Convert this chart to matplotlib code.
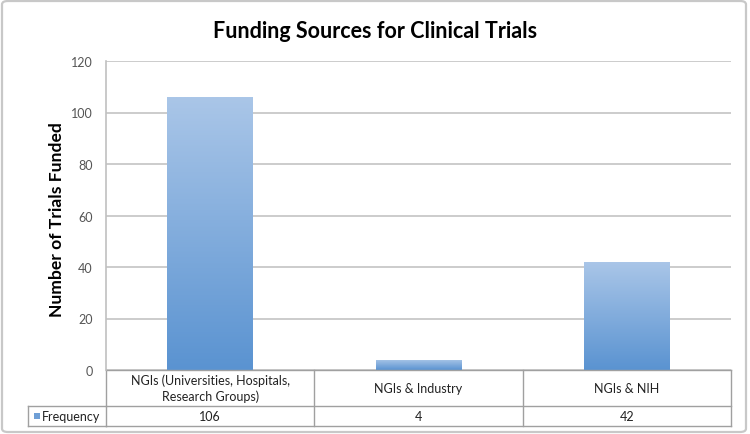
import matplotlib
matplotlib.use("Agg")
import matplotlib.pyplot as plt
import numpy as np
from matplotlib.patches import FancyBboxPatch, Rectangle
from matplotlib.colors import LinearSegmentedColormap
import matplotlib.transforms as mtransforms

categories = ["NGIs (Universities, Hospitals,\nResearch Groups)", "NGIs & Industry", "NGIs & NIH"]
values = [106, 4, 42]
series_name = "Frequency"
title = "Funding Sources for Clinical Trials"
ylabel = "Number of Trials Funded"
yticks = [0, 20, 40, 60, 80, 100, 120]

plt.rcParams['font.family'] = ['Lato', 'DejaVu Sans']

W, H = 750, 435
fig = plt.figure(figsize=(7.5, 4.35), dpi=100)
fig.patch.set_facecolor('white')

def fx(px):
    return px / W
def fy(py):
    return 1 - py / H

# outer border
border = FancyBboxPatch((fx(2), fy(433)), fx(744), 431 / H,
                        boxstyle="round,pad=0,rounding_size=0.008",
                        transform=fig.transFigure, fill=False,
                        edgecolor='#c8c8c8', linewidth=1.6)
fig.patches.append(border)

left, right, top, bottom = 106, 731, 62, 371
ax = fig.add_axes([fx(left), fy(bottom), (right - left) / W, (bottom - top) / H])
ax.set_xlim(-0.5, len(categories) - 0.5)
ax.set_ylim(0, 120)
ax.set_yticks(yticks)
ax.set_xticks([])
for s in ['top', 'right', 'bottom']:
    ax.spines[s].set_visible(False)
ax.spines['left'].set_color('#c0c0c0')
ax.spines['left'].set_linewidth(1.2)
ax.tick_params(axis='y', length=0, labelsize=9, labelcolor='#555555', pad=9.5)
ax.yaxis.grid(True, color='#c4c4c4', linewidth=1.2)
ax.set_axisbelow(True)

cmap = LinearSegmentedColormap.from_list('g', ['#5a93d1', '#aac6e8'])
grad = np.linspace(0, 1, 256).reshape(-1, 1)
bars = ax.bar(range(len(categories)), values, width=0.41, color='none', edgecolor='none', zorder=2)
for b in bars:
    x0, y0 = b.get_x(), b.get_y()
    w, h = b.get_width(), b.get_height()
    im = ax.imshow(grad, cmap=cmap, origin='lower', aspect='auto',
                   extent=[x0, x0 + w, y0, y0 + h], zorder=2)
    im.set_clip_path(b)
ax.set_xlim(-0.5, len(categories) - 0.5)
ax.set_ylim(0, 120)

fig.text(fx(375), fy(31), title, fontsize=15.5, fontweight='bold', color='black',
         ha='center', va='center')
fig.text(fx(57), fy(220), ylabel, fontsize=12.6, fontweight='bold', color='black',
         ha='center', va='center', rotation=90)

# data table
trans = mtransforms.blended_transform_factory(ax.transData, ax.transAxes)
ph = bottom - top
def ay(py):
    return (bottom - py) / ph
y_top, y_mid, y_bot = ay(371), ay(407), ay(427)
lc = '#a0a0a0'
lw = 1.0
n = len(categories)
ax.plot([-0.5, n - 0.5], [y_top, y_top], transform=trans, color=lc, lw=lw, clip_on=False)
ax.plot([-0.5, n - 0.5], [y_mid, y_mid], transform=trans, color=lc, lw=lw, clip_on=False)
ax.plot([-0.5, n - 0.5], [y_bot, y_bot], transform=trans, color=lc, lw=lw, clip_on=False)
for i in range(n + 1):
    ax.plot([i - 0.5, i - 0.5], [y_top, y_bot], transform=trans, color=lc, lw=lw, clip_on=False)
# row label cell
fl = fx(28)
fr = fx(left)
fig.add_artist(plt.Line2D([fl, fr], [fy(407), fy(407)], color=lc, lw=lw))
fig.add_artist(plt.Line2D([fl, fr], [fy(427), fy(427)], color=lc, lw=lw))
fig.add_artist(plt.Line2D([fl, fl], [fy(407), fy(427)], color=lc, lw=lw))
fig.add_artist(Rectangle((fx(34), fy(420)), fx(6), 6 / H, transform=fig.transFigure,
                         facecolor='#6f9fd6', edgecolor='none'))
fig.text(fx(42), fy(417.5), series_name, fontsize=9, va='center', ha='left', color='#222222')

for i, (c, v) in enumerate(zip(categories, values)):
    ax.text(i, (y_top + y_mid) / 2, c, transform=trans, ha='center', va='center',
            fontsize=9, color='#222222', linespacing=1.35)
    ax.text(i, (y_mid + y_bot) / 2, str(v), transform=trans, ha='center', va='center',
            fontsize=9, color='#222222')

fig.savefig('out.png', dpi=100)
